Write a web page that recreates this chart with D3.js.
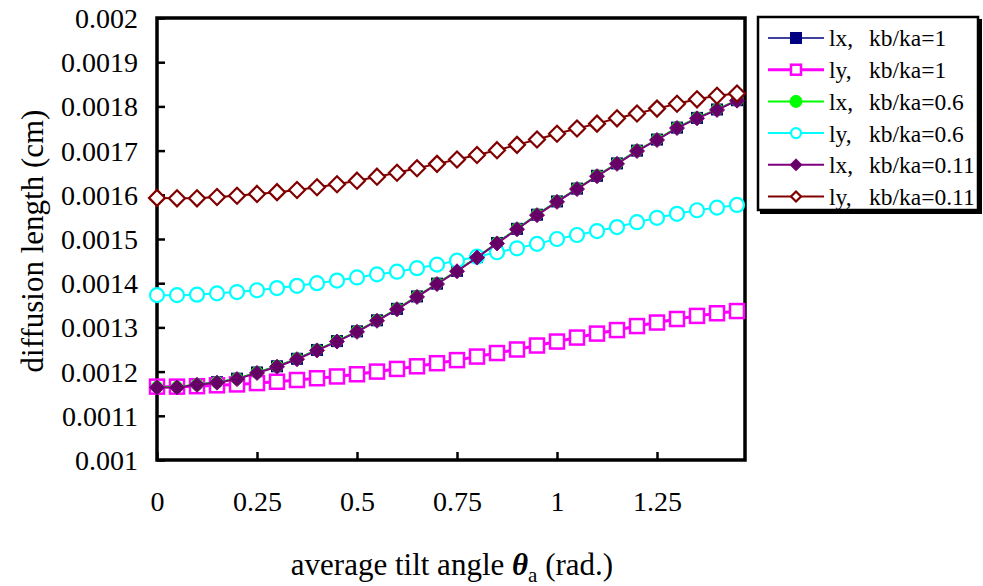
<!DOCTYPE html>
<html>
<head>
<meta charset="utf-8">
<script src="https://cdnjs.cloudflare.com/ajax/libs/d3/7.8.5/d3.min.js"></script>
<style>
body { margin: 0; background: #fff; }
text { font-family: "Liberation Serif", "DejaVu Serif", serif; fill: #000; }
</style>
</head>
<body>
<div id="chart"></div>
<script>
var width = 983;
var height = 586;

// tilt angle (rad.)
var angles = [0, 0.05, 0.1, 0.15, 0.2, 0.25, 0.3, 0.35, 0.4, 0.45,
	0.5, 0.55, 0.6, 0.65, 0.7, 0.75, 0.8, 0.85, 0.9, 0.95,
	1.0, 1.05, 1.1, 1.15, 1.2, 1.25, 1.3, 1.35, 1.4, 1.45];

// diffusion length (cm)
var lx_1 = [0.001165, 0.001165, 0.001171, 0.001176, 0.001184, 0.001198, 0.001212, 0.001229, 0.001249, 0.001269,
	0.001291, 0.001316, 0.001342, 0.001370, 0.001399, 0.001428, 0.001459, 0.001491, 0.001523, 0.001555,
	0.001585, 0.001614, 0.001643, 0.001671, 0.001700, 0.001725, 0.001752, 0.001774, 0.001793, 0.001814];
var ly_1 = [0.001166, 0.001166, 0.001167, 0.001169, 0.001171, 0.001174, 0.001177, 0.001181, 0.001185, 0.001189,
	0.001194, 0.001200, 0.001206, 0.001212, 0.001219, 0.001226, 0.001234, 0.001242, 0.001250, 0.001259,
	0.001268, 0.001277, 0.001286, 0.001294, 0.001303, 0.001311, 0.001319, 0.001326, 0.001332, 0.001337];
var lx_06 = [0.001165, 0.001165, 0.001171, 0.001176, 0.001184, 0.001198, 0.001212, 0.001229, 0.001249, 0.001269,
	0.001291, 0.001316, 0.001342, 0.001370, 0.001399, 0.001428, 0.001459, 0.001491, 0.001523, 0.001555,
	0.001585, 0.001614, 0.001643, 0.001671, 0.001700, 0.001725, 0.001752, 0.001774, 0.001793, 0.001814];
var ly_06 = [0.001373, 0.001373, 0.001374, 0.001377, 0.001380, 0.001384, 0.001389, 0.001394, 0.001400, 0.001406,
	0.001413, 0.001420, 0.001426, 0.001434, 0.001442, 0.001451, 0.001460, 0.001470, 0.001479, 0.001489,
	0.001500, 0.001509, 0.001518, 0.001527, 0.001538, 0.001548, 0.001557, 0.001565, 0.001571, 0.001577];
var lx_011 = [0.001164, 0.001164, 0.001170, 0.001175, 0.001183, 0.001197, 0.001211, 0.001228, 0.001248, 0.001268,
	0.001290, 0.001315, 0.001341, 0.001369, 0.001398, 0.001427, 0.001458, 0.001490, 0.001522, 0.001554,
	0.001584, 0.001613, 0.001642, 0.001670, 0.001699, 0.001724, 0.001751, 0.001773, 0.001792, 0.001813];
var ly_011 = [0.001593, 0.001592, 0.001592, 0.001595, 0.001598, 0.001602, 0.001606, 0.001611, 0.001617, 0.001624,
	0.001632, 0.001641, 0.001650, 0.001660, 0.001670, 0.001680, 0.001690, 0.001701, 0.001713, 0.001725,
	0.001738, 0.001750, 0.001761, 0.001773, 0.001784, 0.001795, 0.001806, 0.001816, 0.001824, 0.001829];

// legend labels: [variable, ratio]
var series_names = [["lx,", "kb/ka=1"], ["ly,", "kb/ka=1"], ["lx,", "kb/ka=0.6"],
	["ly,", "kb/ka=0.6"], ["lx,", "kb/ka=0.11"], ["ly,", "kb/ka=0.11"]];

var x_ticks = [0, 0.25, 0.5, 0.75, 1, 1.25];
var y_ticks = [0.001, 0.0011, 0.0012, 0.0013, 0.0014, 0.0015, 0.0016, 0.0017, 0.0018, 0.0019, 0.002];

// styles, same order as series_names
var styles = [
	{"color": "#000080", "lw": 1.5, "marker": "square", "size": 11, "fill": "#000080", "mlw": 1},
	{"color": "#ff00ff", "lw": 3, "marker": "square", "size": 14, "fill": "#fff", "mlw": 2.5},
	{"color": "#00ff00", "lw": 2, "marker": "circle", "size": 12, "fill": "#00ff00", "mlw": 1},
	{"color": "#00ffff", "lw": 2, "marker": "circle", "size": 14, "fill": "#fff", "mlw": 2.2},
	{"color": "#800080", "lw": 2, "marker": "diamond", "size": 15, "fill": "#660066", "mlw": 1},
	{"color": "#800000", "lw": 2, "marker": "diamond", "size": 16, "fill": "#fff", "mlw": 2.2},
	];
var values = [lx_1, ly_1, lx_06, ly_06, lx_011, ly_011];

var plot = {"left": 157, "top": 18, "right": 745, "bottom": 460};

var svg = d3.select("#chart")
	.append("svg")
	.attr("width", width)
	.attr("height", height);

svg.append("rect").attr("width", width).attr("height", height).style("fill", "#fff");

var x = d3.scaleLinear().domain([0, 1.47]).range([plot.left, plot.right]);
var y = d3.scaleLinear().domain([0.001, 0.002]).range([plot.bottom, plot.top]);

// axes, ticks pointing inward
var xAxis = d3.axisBottom(x).tickValues(x_ticks).tickSize(-8).tickPadding(0).tickFormat(function(d) { return d; });
var yAxis = d3.axisLeft(y).tickValues(y_ticks).tickSize(-8).tickPadding(0).tickFormat(function(d) { return +d.toFixed(4); });

var gx = svg.append("g").attr("transform", "translate(0," + plot.bottom + ")").call(xAxis);
gx.select(".domain").remove();
gx.selectAll(".tick line").style("stroke", "#000").style("stroke-width", 2.5);
gx.selectAll(".tick text").attr("y", 51).attr("dy", 0)
	.style("font-size", "28px").style("font-family", "Liberation Serif");

var gy = svg.append("g").attr("transform", "translate(" + plot.left + ",0)").call(yAxis);
gy.select(".domain").remove();
gy.selectAll(".tick line").style("stroke", "#000").style("stroke-width", 2.5);
gy.selectAll(".tick text").attr("x", -19).attr("dy", "0.34em")
	.style("font-size", "28px").style("font-family", "Liberation Serif");

// plot frame
svg.append("rect")
	.attr("x", plot.left).attr("y", plot.top)
	.attr("width", plot.right - plot.left).attr("height", plot.bottom - plot.top)
	.style("fill", "none").style("stroke", "#000").style("stroke-width", 3.5);

function drawMarker(g, st, cx, cy) {
	var s = st.size;
	var m;
	if (st.marker == "square") {
		m = g.append("rect").attr("x", cx - s/2).attr("y", cy - s/2).attr("width", s).attr("height", s);
	} else if (st.marker == "circle") {
		m = g.append("circle").attr("cx", cx).attr("cy", cy).attr("r", s/2);
	} else {
		var h = s/2;
		m = g.append("polygon").attr("points",
			[[cx, cy - h], [cx + h, cy], [cx, cy + h], [cx - h, cy]].map(function(p) { return p.join(","); }).join(" "));
	}
	m.style("fill", st.fill).style("stroke", st.color).style("stroke-width", st.mlw);
}

var line = d3.line()
	.x(function(d) { return x(d[0]); })
	.y(function(d) { return y(d[1]); });

values.forEach(function(vals, i) {
	var st = styles[i];
	var pts = angles.map(function(a, j) { return [a, vals[j]]; });
	var g = svg.append("g").attr("class", "series s" + i);
	g.append("path").datum(pts).attr("d", line)
		.style("fill", "none").style("stroke", st.color).style("stroke-width", st.lw);
	pts.forEach(function(p) { drawMarker(g, st, x(p[0]), y(p[1])); });
});

// axis titles
svg.append("text")
	.attr("transform", "translate(43,241) rotate(-90)")
	.attr("text-anchor", "middle")
	.style("font-size", "31px")
	.text("diffusion length (cm)");

var xt = svg.append("text")
	.attr("x", 452).attr("y", 575)
	.attr("text-anchor", "middle")
	.style("font-size", "31px");
xt.append("tspan").text("average tilt angle ");
xt.append("tspan").style("font-style", "italic").style("font-weight", "bold").text("\u03B8");
xt.append("tspan").attr("dy", 7).style("font-size", "21px").text("a");
xt.append("tspan").attr("dy", -7).text(" (rad.)");

// legend
var lg = svg.append("g").attr("transform", "translate(758,17)");
lg.append("rect").attr("x", 2).attr("y", 2).attr("width", 222).attr("height", 195).style("fill", "#000");
lg.append("rect").attr("width", 220).attr("height", 193)
	.style("fill", "#fff").style("stroke", "#000").style("stroke-width", 2.5);

series_names.forEach(function(name, i) {
	var st = styles[i];
	var ry = 21 + i * 31.7;
	lg.append("line").attr("x1", 10).attr("x2", 66).attr("y1", ry).attr("y2", ry)
		.style("stroke", st.color).style("stroke-width", st.lw);
	var ms = {"marker": st.marker, "size": Math.min(st.size, 12) - (st.fill == "#fff" ? 2 : 0),
		"fill": st.fill, "color": st.color, "mlw": st.mlw};
	drawMarker(lg, ms, 38, ry);
	var t = lg.append("text").attr("y", ry).attr("dy", "0.36em")
		.style("font-size", "23.5px");
	t.append("tspan").attr("x", 71).text(name[0]);
	t.append("tspan").attr("x", 111).text(name[1]);
});
</script>
</body>
</html>
